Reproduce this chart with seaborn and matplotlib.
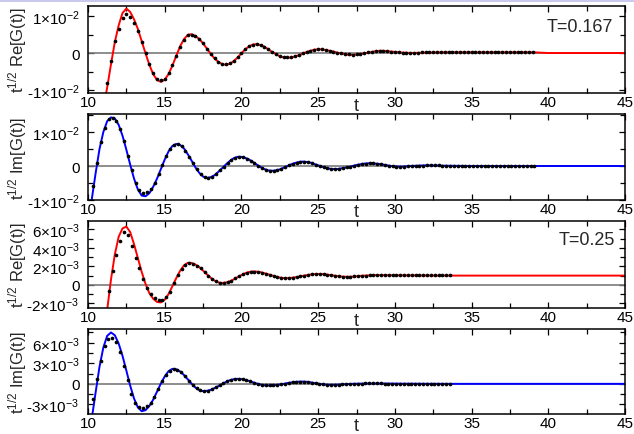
import numpy as np
import pandas as pd
import matplotlib
matplotlib.use("Agg")
import matplotlib.pyplot as plt
import matplotlib.transforms as mtransforms
from matplotlib.patches import Rectangle
from matplotlib.ticker import MultipleLocator
import seaborn as sns

# ---------------- data (values in units of 1e-3) ----------------
SCALE = 1e-3
STEP = 0.25

x_ticks = [10, 15, 20, 25, 30, 35, 40, 45]
x_ticklabels = ["10", "15", "20", "25", "30", "35", "40", "45"]

# Panel 1: t^1/2 Re[G(t)], T=0.167
re167_line_t0 = 11.0
re167_line = [
    -15.0, -9.3, -3.0, 3.0,
    7.5, 10.8, 12.0, 11.1,
    9.1, 6.5, 3.2, -0.1,
    -3.2, -5.7, -7.3, -7.8,
    -7.2, -5.7, -3.4, -0.8,
    1.8, 3.7, 4.9, 5.1,
    4.6, 3.8, 2.6, 1.2,
    -0.2, -1.5, -2.4, -3.0,
    -3.2, -2.9, -2.2, -1.2,
    -0.1, 1.0, 1.8, 2.3,
    2.4, 2.1, 1.7, 1.0,
    0.3, -0.3, -0.9, -1.2,
    -1.3, -1.2, -0.9, -0.6,
    -0.2, 0.3, 0.6, 0.9,
    1.0, 1.0, 0.8, 0.6,
    0.4, 0.1, -0.1, -0.3,
    -0.5, -0.5, -0.4, -0.3,
    -0.1, 0.1, 0.3, 0.5,
    0.6, 0.6, 0.5, 0.4,
    0.3, 0.2, 0.1, 0.1,
    0.0,
]
re167_tail_t = [32.0, 33.0, 36.0, 39.0, 40.0, 45.0]
re167_tail = [0.1, 0.2, 0.2, 0.2, 0.0, 0.0]
re167_dots_t0 = 11.25
re167_dots = [
    -8.2, -2.2, 3.3,
    6.6, 9.5, 10.5, 9.8,
    8.2, 6.0, 3.1, 0.0,
    -3.0, -5.4, -6.9, -7.4,
    -6.9, -5.5, -3.3, -0.8,
    1.7, 3.6, 4.8, 5.0,
    4.6, 3.8, 2.6, 1.2,
    -0.2, -1.4, -2.4, -3.0,
    -3.1, -2.8, -2.1, -1.1,
    0.0, 1.0, 1.8, 2.3,
    2.4, 2.2, 1.7, 1.0,
    0.3, -0.3, -0.8, -1.1,
    -1.2, -1.1, -0.9, -0.5,
    -0.1, 0.3, 0.6, 0.9,
    1.0, 1.0, 0.8, 0.6,
    0.4, 0.1, -0.1, -0.3,
    -0.4, -0.5, -0.4, -0.2,
    0.0, 0.2, 0.4, 0.5,
    0.6, 0.6, 0.5, 0.4,
    0.3, 0.2, 0.1, 0.1,
    0.1, 0.1, 0.1, 0.2,
    0.2, 0.2, 0.3, 0.3,
    0.3, 0.3, 0.3, 0.2,
    0.2, 0.2, 0.2, 0.2,
    0.2, 0.2, 0.2, 0.2,
    0.2, 0.2, 0.3, 0.3,
    0.3, 0.3, 0.3, 0.3,
    0.3, 0.3, 0.3, 0.3,
    0.3,
]

# Panel 2: t^1/2 Im[G(t)], T=0.167
im167_line_t0 = 10.0
im167_line = [
    -17.0, -9.7, -2.0, 5.0,
    10.0, 13.2, 14.3, 14.0,
    12.1, 8.9, 4.8, 0.4,
    -3.7, -6.9, -8.7, -8.9,
    -8.0, -6.1, -3.7, -0.9,
    1.9, 4.3, 5.9, 6.5,
    6.2, 5.2, 3.5, 1.6,
    -0.4, -2.0, -3.1, -3.5,
    -3.3, -2.7, -1.7, -0.6,
    0.5, 1.5, 2.3, 2.7,
    2.7, 2.4, 1.9, 1.2,
    0.4, -0.3, -0.9, -1.3,
    -1.4, -1.3, -1.0, -0.5,
    0.0, 0.5, 0.9, 1.2,
    1.3, 1.2, 1.0, 0.6,
    0.2, -0.2, -0.6, -0.8,
    -0.9, -0.9, -0.7, -0.5,
    -0.3, 0.0, 0.3, 0.5,
    0.7, 0.8, 0.8, 0.7,
    0.6, 0.4, 0.2, 0.0,
    -0.1, -0.2, -0.2, -0.1,
    0.0,
]
im167_tail_t = [32.0, 33.0, 35.0, 45.0]
im167_tail = [0.2, 0.1, 0.0, 0.0]
im167_dots_t0 = 10.35
im167_dots = [
    -5.8, 0.8, 7.0, 11.3,
    13.7, 14.0, 13.2, 10.8,
    7.3, 3.0, -1.2, -5.0,
    -7.0, -7.8, -7.6, -6.8,
    -5.1, -2.3, 0.2, 2.9,
    4.9, 6.2, 6.4, 5.8,
    4.5, 2.7, 0.8, -1.0,
    -2.4, -3.3, -3.4, -3.1,
    -2.3, -1.3, -0.2, 0.9,
    1.8, 2.5, 2.7, 2.6,
    2.2, 1.6, 0.9, 0.1,
    -0.5, -1.1, -1.4, -1.4,
    -1.2, -0.8, -0.3, 0.2,
    0.7, 1.0, 1.3, 1.3,
    1.1, 0.8, 0.4, 0.0,
    -0.4, -0.7, -0.9, -0.9,
    -0.8, -0.6, -0.4, -0.2,
    0.1, 0.4, 0.6, 0.7,
    0.8, 0.8, 0.6, 0.5,
    0.3, 0.1, -0.1, -0.2,
    -0.2, -0.2, -0.1, 0.0,
    0.0, 0.1, 0.1, 0.2,
    0.2, 0.2, 0.2, 0.1,
    0.1, 0.0, 0.0, -0.1,
    -0.1, -0.1, 0.0, 0.0,
    0.0, 0.1, 0.1, 0.1,
    0.1, 0.0, 0.0, 0.0,
    -0.1, -0.1, 0.0, 0.0,
    0.0, 0.0, 0.0, 0.0,
]

# Panel 3: t^1/2 Re[G(t)], T=0.25
re25_line_t0 = 11.0
re25_line = [
    -6.0, -2.7, 0.6, 3.3,
    5.2, 6.1, 6.3, 5.7,
    4.4, 2.9, 1.4, 0.1,
    -0.9, -1.5, -1.85, -1.9,
    -1.6, -1.0, -0.15, 0.72,
    1.51, 2.1, 2.38, 2.37,
    2.2, 1.92, 1.54, 1.14,
    0.76, 0.45, 0.26, 0.2,
    0.26, 0.39, 0.59, 0.83,
    1.06, 1.26, 1.39, 1.45,
    1.43, 1.37, 1.26, 1.14,
    1.01, 0.89, 0.79, 0.74,
    0.73, 0.76, 0.82, 0.89,
    0.97, 1.05, 1.12, 1.16,
    1.18, 1.17, 1.13, 1.07,
    1.01, 0.95, 0.90, 0.88,
    0.87, 0.89, 0.93, 0.97,
    1.0, 1.02, 1.04, 1.05,
    1.05, 1.05, 1.04, 1.04,
    1.03, 1.03, 1.03, 1.02,
    1.02,
]
re25_tail_t = [33.0, 45.0]
re25_tail = [1.0, 1.0]
re25_dots_t0 = 11.35
re25_dots = [
    -0.65, 1.45, 3.2, 4.7,
    5.75, 5.35, 4.2, 2.9,
    1.8, 0.6, -0.3, -1.0,
    -1.45, -1.65, -1.6, -1.3,
    -0.75, 0.2, 1.04, 1.75,
    2.2, 2.4, 2.3, 2.09,
    1.77, 1.38, 0.99, 0.64,
    0.37, 0.23, 0.22, 0.31,
    0.47, 0.69, 0.92, 1.14,
    1.31, 1.41, 1.44, 1.41,
    1.33, 1.21, 1.09, 0.96,
    0.85, 0.77, 0.73, 0.74,
    0.78, 0.85, 0.92, 1.0,
    1.08, 1.14, 1.17, 1.18,
    1.15, 1.11, 1.05, 0.99,
    0.93, 0.89, 0.87, 0.88,
    0.91, 0.95, 0.98, 1.01,
    1.03, 1.04, 1.05, 1.05,
    1.05, 1.04, 1.04, 1.03,
    1.03, 1.03, 1.03, 1.03,
    1.04, 1.04, 1.04, 1.05,
    1.05, 1.05, 1.05, 1.05,
    1.05, 1.05,
]

# Panel 4: t^1/2 Im[G(t)], T=0.25
im25_line_t0 = 10.0
im25_line = [
    -9.0, -5.0, -1.2, 2.5,
    5.3, 7.0, 7.5, 7.08,
    5.87, 4.08, 1.93, -0.26,
    -2.14, -3.44, -3.99, -3.84,
    -3.23, -2.3, -1.14, 0.05,
    1.08, 1.85, 2.19, 2.13,
    1.81, 1.30, 0.67, 0.03,
    -0.54, -0.92, -1.07, -1.02,
    -0.87, -0.62, -0.33, -0.01,
    0.28, 0.53, 0.68, 0.73,
    0.69, 0.58, 0.42, 0.23,
    0.04, -0.11, -0.21, -0.25,
    -0.23, -0.18, -0.10, 0.0,
    0.11, 0.2, 0.27, 0.32,
    0.33, 0.30, 0.22, 0.12,
    0.02, -0.06, -0.12, -0.15,
    -0.15, -0.13, -0.10, -0.06,
    -0.02, 0.0, 0.02, 0.03,
    0.04, 0.05, 0.05, 0.05,
    0.05, 0.05, 0.04, 0.04,
    0.03, 0.03, 0.02, 0.02,
    0.02,
]
im25_tail_t = [33.0, 45.0]
im25_tail = [0.0, 0.0]
im25_dots_t0 = 10.33
im25_dots = [
    -2.2, 0.7, 3.4, 5.5,
    6.5, 6.7, 6.1, 4.6,
    2.6, 0.5, -1.5, -2.8,
    -3.4, -3.5, -3.3, -2.8,
    -1.9, -0.8, 0.4, 1.3,
    1.9, 2.15, 2.05, 1.66,
    1.10, 0.47, -0.15, -0.66,
    -0.97, -1.06, -0.98, -0.79,
    -0.53, -0.23, 0.08, 0.36,
    0.58, 0.70, 0.72, 0.66,
    0.53, 0.36, 0.17, -0.01,
    -0.14, -0.22, -0.24, -0.21,
    -0.15, -0.07, 0.03, 0.14,
    0.22, 0.29, 0.32, 0.32,
    0.28, 0.19, 0.09, -0.01,
    -0.08, -0.13, -0.15, -0.15,
    -0.12, -0.09, -0.05, -0.01,
    0.01, 0.03, 0.04, 0.05,
    0.05, 0.05, 0.05, 0.05,
    0.04, 0.04, 0.03, 0.03,
    0.03, 0.02, 0.02, 0.02,
    0.02, 0.01, 0.01, 0.01,
    0.01, 0.01, 0.01, 0.01,
    0.01, 0.01,
]

ylabels = [r"t$^{1/2}$ Re[G(t)]", r"t$^{1/2}$ Im[G(t)]",
           r"t$^{1/2}$ Re[G(t)]", r"t$^{1/2}$ Im[G(t)]"]
yticks_p1 = [-0.01, 0.0, 0.01]
yticklabels_p1 = ["-1×10$^{-2}$", "0", "1×10$^{-2}$"]
yticks_p2 = [-0.01, 0.0, 0.01]
yticklabels_p2 = ["-1×10$^{-2}$", "0", "1×10$^{-2}$"]
yticks_p3 = [-0.002, 0.0, 0.002, 0.004, 0.006]
yticklabels_p3 = ["-2×10$^{-3}$", "0", "2×10$^{-3}$", "4×10$^{-3}$", "6×10$^{-3}$"]
yticks_p4 = [-0.003, 0.0, 0.003, 0.006]
yticklabels_p4 = ["-3×10$^{-3}$", "0", "3×10$^{-3}$", "6×10$^{-3}$"]
annotations = ["T=0.167", None, "T=0.25", None]

# ---------------- style ----------------
sns.set_style("ticks")
plt.rcParams['font.family'] = ['Liberation Sans', 'DejaVu Sans']
plt.rcParams['mathtext.fontset'] = 'custom'
plt.rcParams['mathtext.rm'] = 'Liberation Sans'
plt.rcParams['mathtext.it'] = 'Liberation Sans:italic'
plt.rcParams['mathtext.bf'] = 'Liberation Sans:bold'

W, H = 634, 435
fig = plt.figure(figsize=(W / 100, H / 100), dpi=100)
fig.patch.set_facecolor("white")
fig.patches.append(Rectangle((0, 1 - 3 / H), 1, 3 / H, transform=fig.transFigure,
                             facecolor="#c9c9ef", edgecolor="none", zorder=0))


def build_line(t0, vals, tail_t, tail_v):
    t = t0 + STEP * np.arange(len(vals))
    tt = np.concatenate([t, np.asarray(tail_t)])
    yy = np.concatenate([np.asarray(vals), np.asarray(tail_v)]) * SCALE
    return pd.DataFrame({"t": tt, "y": yy})


def build_dots(t0, vals):
    t = t0 + STEP * np.arange(len(vals))
    return pd.DataFrame({"t": t, "y": np.asarray(vals) * SCALE})


panels = [
    dict(line=build_line(re167_line_t0, re167_line, re167_tail_t, re167_tail),
         dots=build_dots(re167_dots_t0, re167_dots), color="#ff0000",
         box=(7, 94), ylim=(-0.0108, 0.0127), yticks=yticks_p1,
         yticklabels=yticklabels_p1, minor=0.005, ann_xy=(0.978, 0.77)),
    dict(line=build_line(im167_line_t0, im167_line, im167_tail_t, im167_tail),
         dots=build_dots(im167_dots_t0, im167_dots), color="#0000ff",
         box=(115, 201), ylim=(-0.0100, 0.0153), yticks=yticks_p2,
         yticklabels=yticklabels_p2, minor=0.005, ann_xy=None),
    dict(line=build_line(re25_line_t0, re25_line, re25_tail_t, re25_tail),
         dots=build_dots(re25_dots_t0, re25_dots), color="#ff0000",
         box=(222, 309), ylim=(-0.0025, 0.0069), yticks=yticks_p3,
         yticklabels=yticklabels_p3, minor=0.001, ann_xy=(0.981, 0.79)),
    dict(line=build_line(im25_line_t0, im25_line, im25_tail_t, im25_tail),
         dots=build_dots(im25_dots_t0, im25_dots), color="#0000ff",
         box=(330, 415), ylim=(-0.0044, 0.0080), yticks=yticks_p4,
         yticklabels=yticklabels_p4, minor=0.0015, ann_xy=None),
]

L, R = 88, 625
for i, p in enumerate(panels):
    top, bot = p["box"]
    ax = fig.add_axes([L / W, 1 - bot / H, (R - L) / W, (bot - top) / H])
    ax.axhline(0, color="#7a7a7a", lw=1.2, zorder=1)
    sns.lineplot(data=p["line"], x="t", y="y", ax=ax, color=p["color"], lw=1.4,
                 estimator=None, sort=False, zorder=2)
    sns.scatterplot(data=p["dots"], x="t", y="y", ax=ax, color="black", s=7,
                    linewidth=0, zorder=3)
    ax.set_xlim(10, 45)
    ax.set_ylim(*p["ylim"])
    ax.set_xticks(x_ticks)
    ax.set_xticklabels(x_ticklabels)
    ax.xaxis.set_minor_locator(MultipleLocator(2.5))
    ax.set_yticks(p["yticks"])
    ax.set_yticklabels(p["yticklabels"])
    ax.yaxis.set_minor_locator(MultipleLocator(p["minor"]))
    ax.tick_params(which="both", direction="in", top=True, right=True,
                   width=0.9, labelsize=11, colors="black")
    ax.tick_params(which="major", length=4.5)
    ax.tick_params(which="minor", length=3.5)
    ax.tick_params(axis="x", pad=1.5)
    ax.tick_params(axis="y", pad=6)
    for s in ax.spines.values():
        s.set_linewidth(1.1)
        s.set_color("black")
    ax.set_xlabel("")
    ax.set_ylabel(ylabels[i], fontsize=12)
    ax.yaxis.set_label_coords(-0.11, 0.5)
    trans = mtransforms.blended_transform_factory(ax.transData, ax.transAxes)
    ax.text(27.5, -0.19, "t", transform=trans, ha="center", va="baseline", fontsize=13)
    if annotations[i] is not None:
        ax.text(p["ann_xy"][0], p["ann_xy"][1], annotations[i], transform=ax.transAxes,
                ha="right", va="center", fontsize=13)

fig.savefig("out.png", dpi=100)
